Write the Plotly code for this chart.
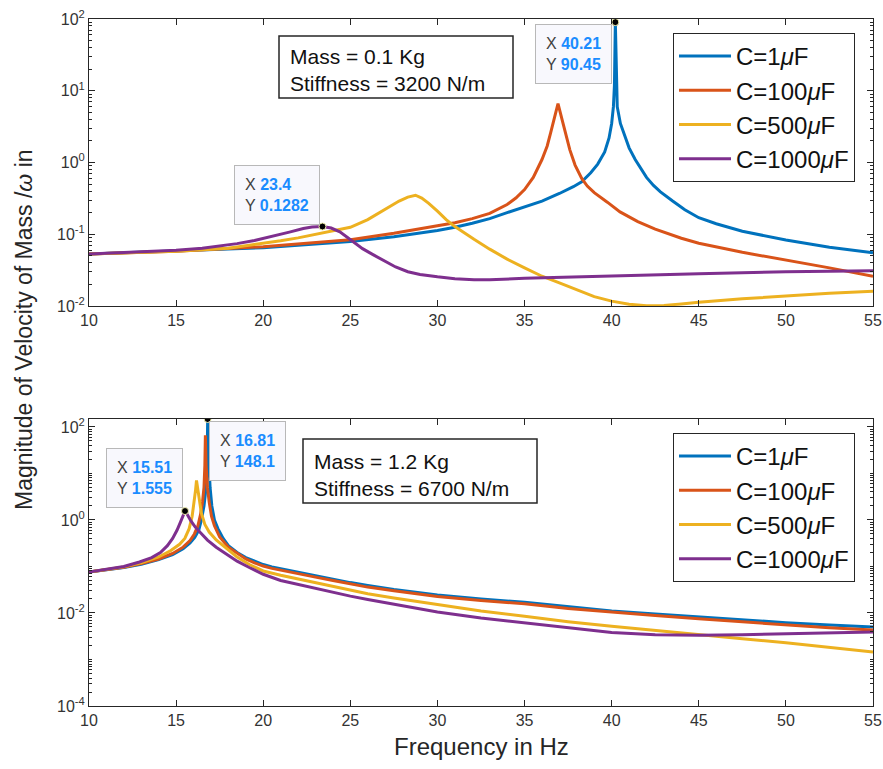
import math
import plotly.graph_objects as go

# ---------------- data ----------------
series_names = ["C=1<i>μ</i>F", "C=100<i>μ</i>F", "C=500<i>μ</i>F", "C=1000<i>μ</i>F"]
series_colors = ["#0072BD", "#D95319", "#EDB120", "#7E2F8E"]

# Top panel: Mass = 0.1 Kg, Stiffness = 3200 N/m
top_c1_x = [10, 15, 20, 25, 27.5, 30, 31, 32, 33, 34, 35, 36, 37, 37.8, 38.28, 38.8, 39.2, 39.6, 39.85, 40.0, 40.1,
            40.16, 40.21, 40.26, 40.32, 40.5, 40.77, 41.0, 41.35, 41.63, 42, 42.4, 42.8, 43.5, 44.2, 45, 46, 47.5,
            50, 52.5, 55]
top_c1_y = [0.053, 0.058, 0.065, 0.079, 0.092, 0.113, 0.125, 0.142, 0.165, 0.2, 0.24, 0.29, 0.37, 0.46, 0.54, 0.72,
            0.95, 1.4, 2.2, 3.5, 6.0, 12.0, 90.45, 12.0, 6.0, 3.5, 2.3, 1.6, 1.1, 0.85, 0.62, 0.48, 0.39, 0.29, 0.22,
            0.17, 0.14, 0.11, 0.083, 0.066, 0.055]

top_c100_x = [10, 15, 20, 25, 27.5, 30, 31, 32, 33, 34, 34.5, 35, 35.5, 36, 36.3, 36.5, 36.7, 36.92, 37.15, 37.35,
              37.6, 37.9, 38.28, 38.6, 39, 39.75, 40.48, 41.5, 42.5, 44, 45, 47.5, 50, 52.5, 55]
top_c100_y = [0.053, 0.058, 0.067, 0.084, 0.103, 0.13, 0.145, 0.165, 0.195, 0.26, 0.32, 0.42, 0.62, 1.1, 1.7, 2.6,
              4.0, 6.6, 4.0, 2.6, 1.5, 0.92, 0.6, 0.47, 0.38, 0.28, 0.205, 0.15, 0.118, 0.088, 0.075, 0.056, 0.044,
              0.034, 0.026]

top_c500_x = [10, 15, 18, 20, 21, 22, 23, 24, 25, 26, 27, 27.8, 28.3, 28.74, 29.1, 29.5, 30, 30.5, 31, 31.5, 32.1,
              33, 34, 35, 36, 37, 38, 39, 40, 41, 42, 43, 44, 45, 47.5, 50, 52.5, 55]
top_c500_y = [0.053, 0.058, 0.064, 0.074, 0.081, 0.089, 0.099, 0.11, 0.125, 0.16, 0.22, 0.29, 0.33, 0.35, 0.32,
              0.27, 0.21, 0.16, 0.128, 0.105, 0.085, 0.062, 0.045, 0.034, 0.026, 0.021, 0.017, 0.0135, 0.0117,
              0.0106, 0.0101, 0.0102, 0.0107, 0.0113, 0.0126, 0.0138, 0.015, 0.016]

top_c1000_x = [10, 12.5, 15, 16.5, 17.5, 18.5, 19.5, 20.5, 21.5, 22.3, 22.8, 23.4, 23.9, 24.4, 24.8, 25.2, 25.7,
               26.3, 27, 27.6, 28.3, 29, 30, 31, 32.1, 33, 35, 37.5, 40, 45, 50, 55]
top_c1000_y = [0.053, 0.056, 0.06, 0.064, 0.068, 0.074, 0.082, 0.093, 0.107, 0.12, 0.126, 0.1282, 0.122, 0.108,
               0.092, 0.077, 0.063, 0.052, 0.042, 0.035, 0.030, 0.0275, 0.0255, 0.024, 0.0233, 0.0233, 0.0243,
               0.0253, 0.0263, 0.0282, 0.030, 0.031]

# Bottom panel: Mass = 1.2 Kg, Stiffness = 6700 N/m
bot_c1_x = [10, 11, 12, 13, 14, 14.8, 15.4, 15.8, 16.07, 16.3, 16.45, 16.6, 16.72, 16.78, 16.81, 16.86, 16.95,
            17.05, 17.2, 17.4, 17.7, 18, 18.5, 19, 19.5, 20, 20.5, 21, 22, 23, 24, 25, 26, 27.5, 30, 32.5, 35, 37.5,
            40, 42.5, 45, 47.5, 50, 52.5, 55]
bot_c1_y = [0.076, 0.084, 0.095, 0.112, 0.14, 0.18, 0.24, 0.32, 0.42, 0.6, 1.0, 2.0, 5.0, 15.0, 148.1, 25.0, 5.0,
            2.0, 1.0, 0.65, 0.4, 0.28, 0.2, 0.155, 0.128, 0.11, 0.098, 0.089, 0.075, 0.063, 0.053, 0.045, 0.039,
            0.032, 0.0245, 0.02, 0.017, 0.0135, 0.011, 0.0095, 0.0082, 0.0071, 0.0062, 0.0055, 0.005]

bot_c100_x = [10, 11, 12, 13, 14, 14.8, 15.4, 15.8, 16.05, 16.25, 16.4, 16.52, 16.6, 16.65, 16.68, 16.72, 16.8,
              16.9, 17.03, 17.2, 17.5, 18, 18.5, 19, 19.5, 20, 20.5, 21, 22, 23, 24, 25, 26, 27.5, 30, 32.5, 35,
              37.5, 40, 42.5, 45, 47.5, 50, 52.5, 55]
bot_c100_y = [0.076, 0.084, 0.096, 0.115, 0.145, 0.19, 0.26, 0.36, 0.5, 0.75, 1.3, 2.5, 5.0, 15.0, 66.0, 15.0, 5.0,
              2.4, 1.2, 0.75, 0.43, 0.26, 0.19, 0.145, 0.12, 0.102, 0.091, 0.083, 0.07, 0.059, 0.05, 0.042, 0.036,
              0.03, 0.0225, 0.0185, 0.0158, 0.0125, 0.0103, 0.0088, 0.0075, 0.0064, 0.0055, 0.0048, 0.0043]

bot_c500_x = [10, 11, 12, 13, 14, 14.7, 15.2, 15.5, 15.75, 15.92, 16.05, 16.12, 16.17, 16.24, 16.33, 16.45, 16.65,
              16.9, 17.3, 17.8, 18.5, 19.2, 20, 21, 22, 23, 24, 25, 26, 27.5, 30, 32.5, 35, 37.5, 40, 42.5, 45, 47.5,
              50, 52.5, 55]
bot_c500_y = [0.076, 0.085, 0.098, 0.12, 0.16, 0.22, 0.3, 0.4, 0.65, 1.2, 2.5, 4.5, 7.1, 4.5, 2.5, 1.4, 0.8, 0.55,
              0.37, 0.26, 0.16, 0.11, 0.08, 0.065, 0.054, 0.045, 0.037, 0.031, 0.026, 0.021, 0.015, 0.011, 0.0085,
              0.0065, 0.0052, 0.0042, 0.0034, 0.0028, 0.0023, 0.0018, 0.00145]

bot_c1000_x = [10, 11, 12, 12.9, 13.6, 14.1, 14.5, 14.8, 15.05, 15.25, 15.4, 15.51, 15.65, 15.85, 16.1, 16.4, 16.8,
               17.3, 17.9, 18.5, 19.2, 20, 21, 22, 23, 24, 25, 26, 27.5, 30, 32.5, 35, 37.5, 40, 42.5, 45, 47.5, 50,
               52.5, 55]
bot_c1000_y = [0.076, 0.086, 0.1, 0.125, 0.155, 0.2, 0.28, 0.4, 0.6, 0.9, 1.25, 1.555, 1.3, 0.95, 0.7, 0.52, 0.37,
               0.26, 0.18, 0.13, 0.095, 0.068, 0.05, 0.041, 0.034, 0.028, 0.023, 0.0195, 0.0155, 0.0105, 0.0078,
               0.0062, 0.0048, 0.0038, 0.0034, 0.0033, 0.0034, 0.0036, 0.0038, 0.0039]

# Data tips
top_tip_x = [40.21, 23.4]
top_tip_y = [90.45, 0.1282]
bot_tip_x = [15.51, 16.81]
bot_tip_y = [1.555, 148.1]

x_ticks = [10, 15, 20, 25, 30, 35, 40, 45, 50, 55]
top_y_ticks = [0.01, 0.1, 1, 10, 100]
top_y_text = ["10<sup>-2</sup>", "10<sup>-1</sup>", "10<sup>0</sup>", "10<sup>1</sup>", "10<sup>2</sup>"]
bot_y_ticks = [1e-4, 1e-2, 1, 100]
bot_y_text = ["10<sup>-4</sup>", "10<sup>-2</sup>", "10<sup>0</sup>", "10<sup>2</sup>"]

top_info = ["Mass = 0.1 Kg", "Stiffness = 3200 N/m"]
bot_info = ["Mass = 1.2 Kg", "Stiffness = 6700 N/m"]
x_label = "Frequency in Hz"
y_label = "Magnitude of Velocity of Mass /<i>ω</i> in"

# ---------------- figure ----------------
FONT = "Liberation Sans, Arial, Helvetica, sans-serif"
AX = "#262626"
TIPBLUE = "#1a8cff"

fig = go.Figure()

top_sets = [(top_c1_x, top_c1_y), (top_c100_x, top_c100_y), (top_c500_x, top_c500_y), (top_c1000_x, top_c1000_y)]
bot_sets = [(bot_c1_x, bot_c1_y), (bot_c100_x, bot_c100_y), (bot_c500_x, bot_c500_y), (bot_c1000_x, bot_c1000_y)]

for (xs, ys), name, col in zip(top_sets, series_names, series_colors):
    fig.add_trace(go.Scatter(x=xs, y=ys, mode="lines", name=name, line=dict(color=col, width=3),
                             xaxis="x", yaxis="y", legend="legend"))
for (xs, ys), name, col in zip(bot_sets, series_names, series_colors):
    fig.add_trace(go.Scatter(x=xs, y=ys, mode="lines", name=name, line=dict(color=col, width=3),
                             xaxis="x2", yaxis="y2", legend="legend2"))

marker_style = dict(color="black", size=7, line=dict(color="#f2f0b0", width=1))
fig.add_trace(go.Scatter(x=top_tip_x, y=top_tip_y, mode="markers", marker=marker_style, showlegend=False,
                         xaxis="x", yaxis="y", hoverinfo="skip"))
fig.add_trace(go.Scatter(x=bot_tip_x, y=bot_tip_y, mode="markers", marker=marker_style, showlegend=False,
                         xaxis="x2", yaxis="y2", hoverinfo="skip"))

common_x = dict(range=[10, 55], tickvals=x_ticks, ticks="inside", ticklen=6, tickwidth=1, tickcolor=AX,
                showline=True, linecolor=AX, linewidth=1, mirror="ticks", showgrid=False, zeroline=False,
                automargin=False, ticklabeloverflow="allow",
                tickfont=dict(family=FONT, size=16, color="#333333"))
common_y = dict(type="log", ticks="inside", ticklen=6, tickwidth=1, tickcolor=AX,
                showline=True, linecolor=AX, linewidth=1, mirror="ticks", showgrid=False, zeroline=False,
                automargin=False,
                tickfont=dict(family=FONT, size=16, color="#333333"),
                minor=dict(ticks="inside", ticklen=3, tickcolor=AX, dtick="D1", showgrid=False))

H, W = 769, 883
L, R, T, B = 89, 10, 19, 63
ph = H - T - B
pw = W - L - R
top_dom = [(706 - 306) / ph, 1.0]
bot_dom = [0.0, (706 - 419) / ph]


def px(xp):
    return (xp - L) / pw


def py(yp):
    return (H - B - yp) / ph


legend_style = dict(xanchor="left", yanchor="top", bordercolor=AX, borderwidth=1, bgcolor="white", itemwidth=52,
                    font=dict(family=FONT, size=24, color="#111111"), tracegroupgap=0)

fig.update_layout(
    width=W, height=H, autosize=False,
    margin=dict(l=L, r=R, t=T, b=B, autoexpand=False),
    paper_bgcolor="white", plot_bgcolor="white",
    font=dict(family=FONT, color=AX),
    xaxis=dict(common_x, domain=[0, 1], anchor="y"),
    yaxis=dict(common_y, domain=top_dom, anchor="x", range=[-2, 2], tickvals=top_y_ticks, ticktext=top_y_text),
    xaxis2=dict(common_x, domain=[0, 1], anchor="y2"),
    yaxis2=dict(common_y, domain=bot_dom, anchor="x2", range=[-4, math.log10(max(bot_tip_y))],
                tickvals=bot_y_ticks, ticktext=bot_y_text),
    legend=dict(legend_style, x=px(673), y=py(33)),
    legend2=dict(legend_style, x=px(673), y=py(433)),
    showlegend=True,
)

shapes = []
annotations = []
# info boxes: frame + two text lines
for (x0, y0, x1, y1), lines, (ly1, ly2) in [((279, 36, 513, 98), top_info, (56, 83)),
                                              ((303, 439, 537, 503), bot_info, (461, 488))]:
    shapes.append(dict(type="rect", xref="paper", yref="paper", x0=px(x0), x1=px(x1), y0=py(y1), y1=py(y0),
                       line=dict(color=AX, width=1.5), fillcolor="white", layer="above"))
    for txt, ly in zip(lines, (ly1, ly2)):
        annotations.append(dict(xref="paper", yref="paper", x=px(x0 + 9), y=py(ly), xanchor="left",
                                yanchor="middle", text=txt, showarrow=False,
                                font=dict(family=FONT, size=21, color="#111111")))


def tip_text(xv, yv):
    return (f"X <b><span style='color:{TIPBLUE}'>{xv:g}</span></b><br>"
            f"Y <b><span style='color:{TIPBLUE}'>{yv:g}</span></b>")


tip_style = dict(showarrow=False, align="left", font=dict(family=FONT, size=16, color="#404040"),
                 bgcolor="#f8f8fd", bordercolor="#b8b8b8", borderwidth=1, borderpad=10)
annotations.append(dict(tip_style, xref="x", yref="y", x=top_tip_x[0], y=math.log10(top_tip_y[0]),
                        xanchor="right", yanchor="top", xshift=-3, yshift=-2,
                        text=tip_text(top_tip_x[0], top_tip_y[0])))
annotations.append(dict(tip_style, xref="x", yref="y", x=top_tip_x[1], y=math.log10(top_tip_y[1]),
                        xanchor="right", yanchor="bottom", xshift=-2, yshift=2,
                        text=tip_text(top_tip_x[1], top_tip_y[1])))
annotations.append(dict(tip_style, xref="x2", yref="y2", x=bot_tip_x[0], y=math.log10(bot_tip_y[0]),
                        xanchor="right", yanchor="bottom", xshift=-2, yshift=3,
                        text=tip_text(bot_tip_x[0], bot_tip_y[0])))
annotations.append(dict(tip_style, xref="x2", yref="y2", x=bot_tip_x[1], y=math.log10(bot_tip_y[1]),
                        xanchor="left", yanchor="top", xshift=1, yshift=-2,
                        text=tip_text(bot_tip_x[1], bot_tip_y[1])))

annotations.append(dict(xref="paper", yref="paper", x=px(481), y=py(746),
                        xanchor="center", yanchor="middle", text=x_label, showarrow=False,
                        font=dict(family=FONT, size=24, color=AX)))
annotations.append(dict(xref="paper", yref="paper", x=px(24), y=py(330),
                        xanchor="center", yanchor="middle", text=y_label, showarrow=False, textangle=-90,
                        font=dict(family=FONT, size=23, color=AX)))

fig.update_layout(annotations=annotations, shapes=shapes)
fig.write_html("out.html", config={"displayModeBar": False},
               post_script="document.body.style.margin='0';")
